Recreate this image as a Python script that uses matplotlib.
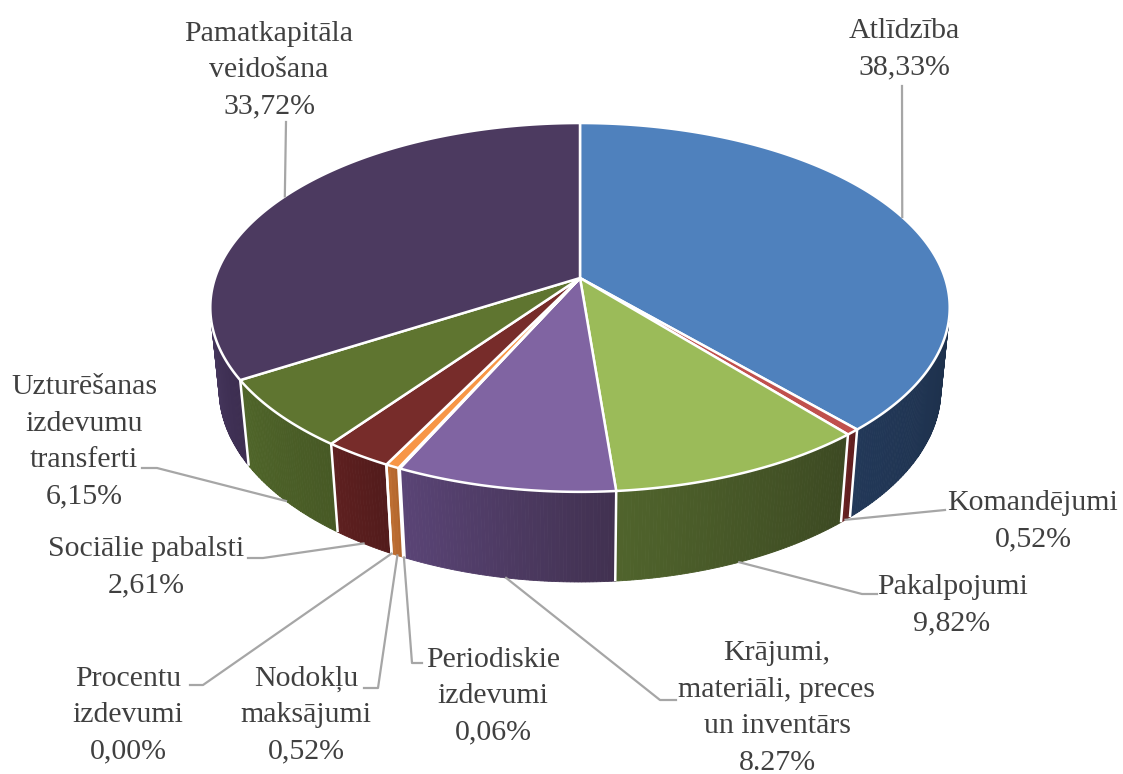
import numpy as np
import matplotlib.pyplot as plt
from matplotlib.patches import Polygon
from matplotlib.colors import to_rgb

# ---- dati
labels = ['Atlīdzība', 'Komandējumi', 'Pakalpojumi',
          'Krājumi,\nmateriāli, preces\nun inventārs', 'Periodiskie\nizdevumi',
          'Nodokļu\nmaksājumi', 'Procentu\nizdevumi', 'Sociālie pabalsti',
          'Uzturēšanas\nizdevumu\ntransferti', 'Pamatkapitāla\nveidošana']
values = [38.33, 0.52, 9.82, 8.27, 0.06, 0.52, 0.00, 2.61, 6.15, 33.72]
pct_text = ['38,33%', '0,52%', '9,82%', '8.27%', '0,06%', '0,52%', '0,00%',
            '2,61%', '6,15%', '33,72%']

# ---- krasas (virsma, sana kreisa, sana laba)
top_col = ['#4F81BD', '#C0504D', '#9BBB59', '#8064A2', '#4BACC6', '#F79646',
           '#2C4D75', '#772C2A', '#5F7530', '#4C3A60']
wall_l = ['#223858', '#6A2222', '#50642C', '#5A4476', '#2F7A8C', '#C07033',
          '#1F3350', '#5E2020', '#4F6529', '#45365C']
wall_r = ['#1D304B', '#5A1C1C', '#3C4922', '#413150', '#2F7A8C', '#B0652C',
          '#1F3350', '#521B1B', '#475925', '#3C2D50']

# ---- izkartojums etiketem: centrs, lauzuma punkti, piesaiste (0 = virsa, 1 = apaksa)
lab_pos = [(904, 49), (1033, 521), (952, 605), (777, 708), (493, 696),
           (306, 715), (128, 715), (146, 567), (84, 442), (269, 70)]
lab_path = [[(902, 86)], [(945, 510)], [(877, 594), (862, 594)],
            [(676, 700), (660, 700)], [(422, 663), (412, 663)],
            [(364, 688), (378, 688)], [(190, 685), (203, 685)],
            [(248, 558), (263, 558)], [(142, 468), (157, 468)], [(286, 122)]]
lab_anchor = [0, 1, 1, 1, 1, 1, 1, 1, 1, 0]

# ---- perspektiva
ELEV = np.radians(29.5)
DIST = 5.45
SCALE = 1989.0
CX, CY = 580.0, 278.0
H = 0.261


def proj(theta, z=0.0, r=1.0):
    X = r*np.sin(theta)
    Y = r*np.cos(theta)
    depth = Y*np.cos(ELEV) - z*np.sin(ELEV) + DIST
    xs = CX + SCALE*X/depth
    ys = CY - SCALE*(Y*np.sin(ELEV) + z*np.cos(ELEV))/depth
    return xs, ys


fig = plt.figure(figsize=(11.23, 7.74), dpi=100)
ax = fig.add_axes([0, 0, 1, 1])
ax.set_xlim(0, 1123)
ax.set_ylim(774, 0)
ax.axis('off')

frac = np.array(values)/np.sum(values)
ends = np.cumsum(frac)*2*np.pi
starts = ends - frac*2*np.pi

th_vis = np.arccos(-1.0/(DIST*np.cos(ELEV)))

# ---- sanu sienas
for i in range(len(values)):
    lo = max(starts[i], th_vis)
    hi = min(ends[i], 2*np.pi - th_vis)
    if hi <= lo:
        continue
    n = max(2, int(np.degrees(hi-lo)*2))
    cl = np.array(to_rgb(wall_l[i]))
    cr = np.array(to_rgb(wall_r[i]))
    edges = np.linspace(lo, hi, n+1)
    for k in range(n):
        t = np.linspace(edges[k], edges[k+1], 4)
        xt, yt = proj(t, 0)
        xb, yb = proj(t[::-1], -H)
        f = (k+0.5)/n
        c = cr + (cl-cr)*f
        ax.add_patch(Polygon(np.column_stack([np.r_[xt, xb], np.r_[yt, yb]]),
                             closed=True, facecolor=c, edgecolor=c, lw=0.6))

for b in ends[:-1]:
    if th_vis < b < 2*np.pi - th_vis:
        x0, y0 = proj(b, 0)
        x1, y1 = proj(b, -H)
        ax.plot([x0, x1], [y0, y1], color='white', lw=1.8, solid_capstyle='butt')

# ---- virsma
for i in range(len(values)):
    if values[i] <= 0:
        continue
    t = np.linspace(starts[i], ends[i], max(3, int(np.degrees(ends[i]-starts[i])*2)))
    xr, yr = proj(t, 0)
    pts = np.column_stack([np.r_[CX, xr], np.r_[CY, yr]])
    ax.add_patch(Polygon(pts, closed=True, facecolor=top_col[i],
                         edgecolor='white', lw=1.8, joinstyle='round'))

# ---- etiketes un lineas
mids = (starts + ends)/2
for i in range(len(values)):
    z = 0 if lab_anchor[i] == 0 else -H
    axx, ayy = proj(mids[i], z)
    px = [p[0] for p in lab_path[i]] + [axx]
    py = [p[1] for p in lab_path[i]] + [ayy]
    ax.plot(px, py, color='#A6A6A6', lw=1.6)
    ax.text(lab_pos[i][0], lab_pos[i][1], labels[i] + '\n' + pct_text[i],
            ha='center', va='center', multialignment='center',
            fontsize=21.5, family=['Liberation Serif', 'DejaVu Serif'],
            color='#404040', linespacing=1.52)

fig.savefig('out.png', dpi=100)
